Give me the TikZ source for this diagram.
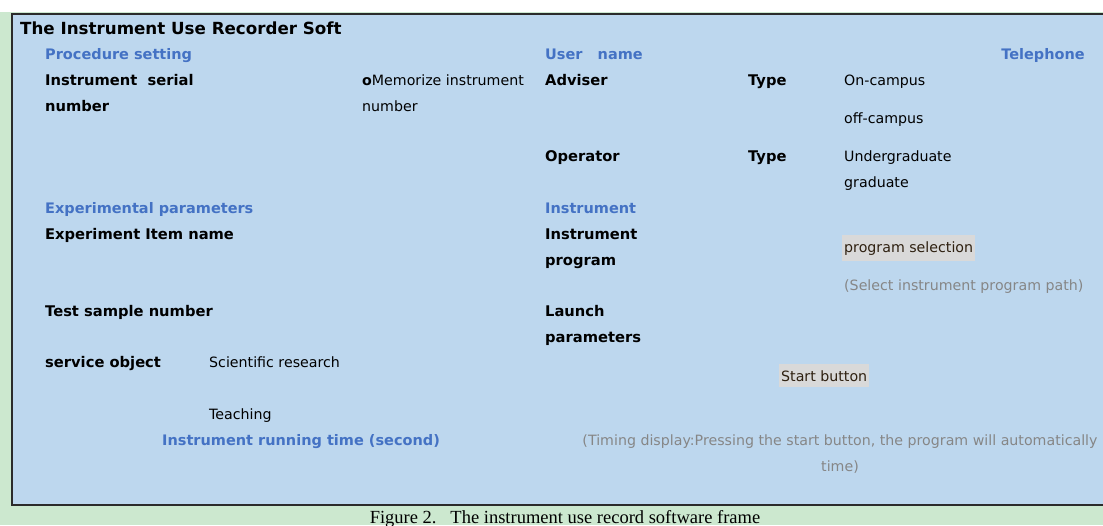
\documentclass[tikz,border=0pt]{standalone}
\usepackage{fontspec}
\setmainfont{DejaVu Sans}
\newfontfamily\capfont{Liberation Serif}
\usetikzlibrary{positioning}
\definecolor{paneblue}{HTML}{BDD7EE}
\definecolor{pagegreen}{HTML}{CCE8CF}
\definecolor{headblue}{HTML}{4472C4}
\definecolor{hint}{HTML}{868686}
\definecolor{edge}{HTML}{2B2B2B}
\definecolor{mark}{HTML}{D9D9D9}
\definecolor{inkbtn}{HTML}{2E2010}
\tikzset{
  field/.style={anchor=base west, inner sep=0pt, align=left,
    font=\fontsize{14.7}{26}\selectfont\bfseries},
  value/.style={anchor=base west, inner sep=0pt, align=left,
    font=\fontsize{14.2}{26}\selectfont},
  head/.style={field, text=headblue, font=\fontsize{14.5}{26}\selectfont\bfseries},
  hintxt/.style={value, text=hint},
  button/.style={value, fill=mark, text=inkbtn, inner xsep=2pt, inner ysep=6pt}
}

\begin{document}
\begin{tikzpicture}[x=1pt,y=-1pt]
  \useasboundingbox (0,0) rectangle (1103,525);
  \clip (0,0) rectangle (1103,525);
  \fill[pagegreen] (0,12) rectangle (1103,525);
  \draw[edge, fill=paneblue, line width=1.2pt] (12,14) rectangle (1115,505);

  % left column (multi-line nodes sit on their last baseline)
  \node[field, font=\fontsize{16.7}{26}\selectfont\bfseries] (title) at (20,34) {The Instrument Use Recorder Soft};
  \node[head] (proc) at (45,59) {Procedure setting};
  \node[field] (serial) at (45,111) {Instrument\ \ serial\\number};
  \node[value] (memo) at (362,111) {{\bfseries o}Memorize instrument\\number};
  \node[head] (expar) at (45,213) {Experimental parameters};
  \node[field] (item) at (45,239) {Experiment Item name};
  \node[field] (sample) at (45,316) {Test sample number};
  \node[field] (service) at (45,367) {service object};
  \node[value] (research) at (209,367) {Scientific research};
  \node[value] (teaching) at (209,419) {Teaching};
  \node[head] (runtime) at (162,445) {Instrument running time (second)};

  % right column
  \node[head] (user) at (545,59) {User\ \ \ name};
  \node[head, anchor=base east] (phone) at (1085,59) {Telephone};
  \node[field] (adviser) at (545,85) {Adviser};
  \node[field] (type1) at (748,85) {Type};
  \node[value] (oncamp) at (844,85) {On-campus};
  \node[value] (offcamp) at (844,123) {off-campus};
  \node[field] (operator) at (545,161) {Operator};
  \node[field] (type2) at (748,161) {Type};
  \node[value] (grade) at (844,187) {Undergraduate\\graduate};
  \node[head] (instr) at (545,213) {Instrument};
  \node[field] (program) at (545,265) {Instrument\\program};
  \node[button] (select) at (842,252) {program selection};
  \node[hintxt] (path) at (844,290) {(Select instrument program path)};
  \node[field] (launch) at (545,342) {Launch\\parameters};
  \node[button] (start) at (779,381) {Start button};
  \node[hintxt, anchor=base, align=center] (timing) at (840,471)
    {(Timing display:Pressing the start button, the program will automatically\\time)};

  % caption
  \node[anchor=base, inner sep=0pt, font=\capfont\fontsize{18.5}{20}\selectfont] (caption) at (565,523)
    {Figure 2.\hspace{0.75em}The instrument use record software frame};
\end{tikzpicture}
\end{document}
